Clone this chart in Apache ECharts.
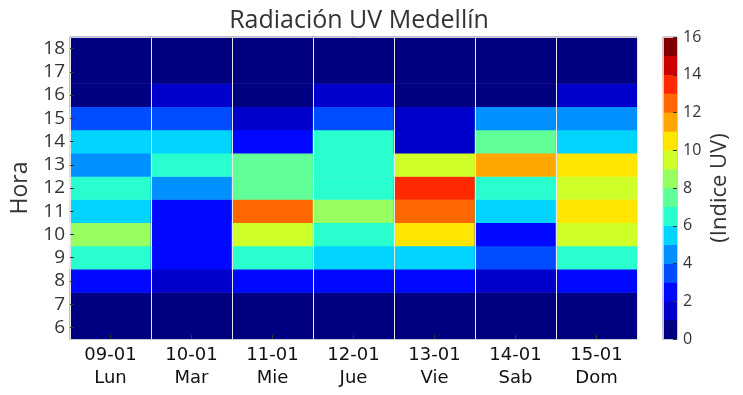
<!DOCTYPE html>
<html>
<head>
<meta charset="utf-8">
<script src="https://cdn.jsdelivr.net/npm/echarts@6/dist/echarts.min.js"></script>
<style>html,body{margin:0;padding:0;background:#fff}#c{width:743px;height:395px}</style>
</head>
<body>
<div id="c"></div>
<script>
// ---- data ----
const days = ['09-01\nLun', '10-01\nMar', '11-01\nMie', '12-01\nJue', '13-01\nVie', '14-01\nSab', '15-01\nDom'];
const hours = ['6', '7', '8', '9', '10', '11', '12', '13', '14', '15', '16', '17', '18'];
// UV index per day, hours 6..18
const lun = [0, 0, 2, 6, 8, 5, 6, 4, 5, 3, 0, 0, 0];
const mar = [0, 0, 1, 2, 2, 2, 4, 6, 5, 3, 1, 0, 0];
const mie = [0, 0, 2, 6, 9, 12, 7, 7, 2, 1, 0, 0, 0];
const jue = [0, 0, 2, 5, 6, 8, 6, 6, 6, 3, 1, 0, 0];
const vie = [0, 0, 2, 5, 10, 12, 13, 9, 1, 1, 0, 0, 0];
const sab = [0, 0, 1, 3, 2, 5, 6, 11, 7, 4, 0, 0, 0];
const dom = [0, 0, 2, 6, 9, 10, 9, 10, 5, 4, 1, 0, 0];
const levels = [0, 1, 2, 3, 4, 5, 6, 7, 8, 9, 10, 11, 12, 13, 14, 15];
const levelColors = ['#000080', '#0000cd', '#0008ff', '#004cff', '#0090ff', '#00d4ff', '#29ffce', '#60ff97',
  '#97ff60', '#ceff29', '#ffe600', '#ffa700', '#ff6800', '#ff2900', '#cd0000', '#800000'];
const cbTicks = [0, 2, 4, 6, 8, 10, 12, 14, 16];

// ---- build ----
const columns = [lun, mar, mie, jue, vie, sab, dom];
const heat = [];
columns.forEach((col, d) => col.forEach((v, h) => heat.push([d, h, v])));
const cbData = levels.map((l, i) => [0, i, l]);
const pieces = levels.map((l, i) => ({ gte: l, lt: l + 1, color: levelColors[i] }));

const FONT = 'DejaVu Sans';
const FONT2 = 'Open Sans';
const txt = '#333333';
const chart = echarts.init(document.getElementById('c'), null, { renderer: 'canvas' });
chart.setOption({
  animation: false,
  textStyle: { fontFamily: FONT },
  title: {
    text: 'Radiación UV Medellín', left: 354, top: 3, textAlign: 'center',
    textStyle: { fontFamily: FONT2, fontSize: 25, fontWeight: 'normal', color: '#333' }
  },
  grid: [
    { left: 70, right: 106, top: 37, bottom: 56 },
    { left: 663, width: 14, top: 37, bottom: 56 }
  ],
  xAxis: [
    {
      type: 'category', data: days, gridIndex: 0, position: 'bottom', z: 10,
      axisLine: { show: true, lineStyle: { color: '#cccccc', width: 1 } },
      axisTick: { show: true, inside: true, alignWithLabel: true, length: 4, lineStyle: { color: '#333' } },
      axisLabel: { fontFamily: FONT, fontSize: 18, color: '#111', lineHeight: 23, margin: 5, interval: 0 },
      splitLine: { show: true, lineStyle: { color: '#e6e6e6', width: 1 } }
    },
    {
      type: 'category', data: days, gridIndex: 0, position: 'top', z: 10,
      axisLine: { show: true, lineStyle: { color: '#cccccc', width: 1 } },
      axisTick: { show: false }, axisLabel: { show: false }, splitLine: { show: false }
    },
    {
      type: 'category', data: ['cb'], gridIndex: 1, position: 'bottom', z: 10,
      axisLine: { show: true, lineStyle: { color: '#cccccc', width: 1 } },
      axisTick: { show: false }, axisLabel: { show: false },
      splitLine: { show: true, lineStyle: { color: '#cccccc', width: 1 } }
    },
    {
      type: 'category', data: ['cb'], gridIndex: 1, position: 'top', z: 10,
      axisLine: { show: true, lineStyle: { color: '#cccccc', width: 1 } },
      axisTick: { show: false }, axisLabel: { show: false }, splitLine: { show: false }
    }
  ],
  yAxis: [
    {
      type: 'category', data: hours, gridIndex: 0, z: 10,
      name: 'Hora', nameLocation: 'middle', nameRotate: 90, nameGap: 38,
      nameTextStyle: { fontFamily: FONT2, fontSize: 23, color: txt },
      axisLine: { show: false },
      axisTick: { show: true, inside: true, alignWithLabel: true, length: 4, interval: 0, lineStyle: { color: '#333' } },
      axisLabel: { fontFamily: FONT2, fontSize: 19, color: txt, margin: 5, interval: 0 },
      splitLine: { show: false }
    },
    {
      type: 'category', data: levels.map(String), gridIndex: 1, show: false
    },
    {
      type: 'value', gridIndex: 1, position: 'right', min: 0, max: 16, interval: 2, z: 10,
      name: '(Indice UV)', nameLocation: 'middle', nameRotate: 90, nameGap: 32,
      nameTextStyle: { fontFamily: FONT2, fontSize: 22, color: txt },
      axisLine: { show: false },
      axisTick: { show: true, inside: true, length: 4, lineStyle: { color: '#333' } },
      axisLabel: { fontFamily: FONT2, fontSize: 16, color: txt, margin: 6 },
      splitLine: { show: false }
    }
  ],
  visualMap: {
    type: 'piecewise', show: false, dimension: 2, pieces: pieces, seriesIndex: [0, 1]
  },
  series: [
    {
      type: 'heatmap', xAxisIndex: 0, yAxisIndex: 0, data: heat,
      itemStyle: { borderWidth: 0 }, emphasis: { disabled: true }
    },
    {
      type: 'heatmap', xAxisIndex: 2, yAxisIndex: 1, data: cbData,
      itemStyle: { borderWidth: 0 }, emphasis: { disabled: true }
    }
  ]
});
</script>
</body>
</html>
